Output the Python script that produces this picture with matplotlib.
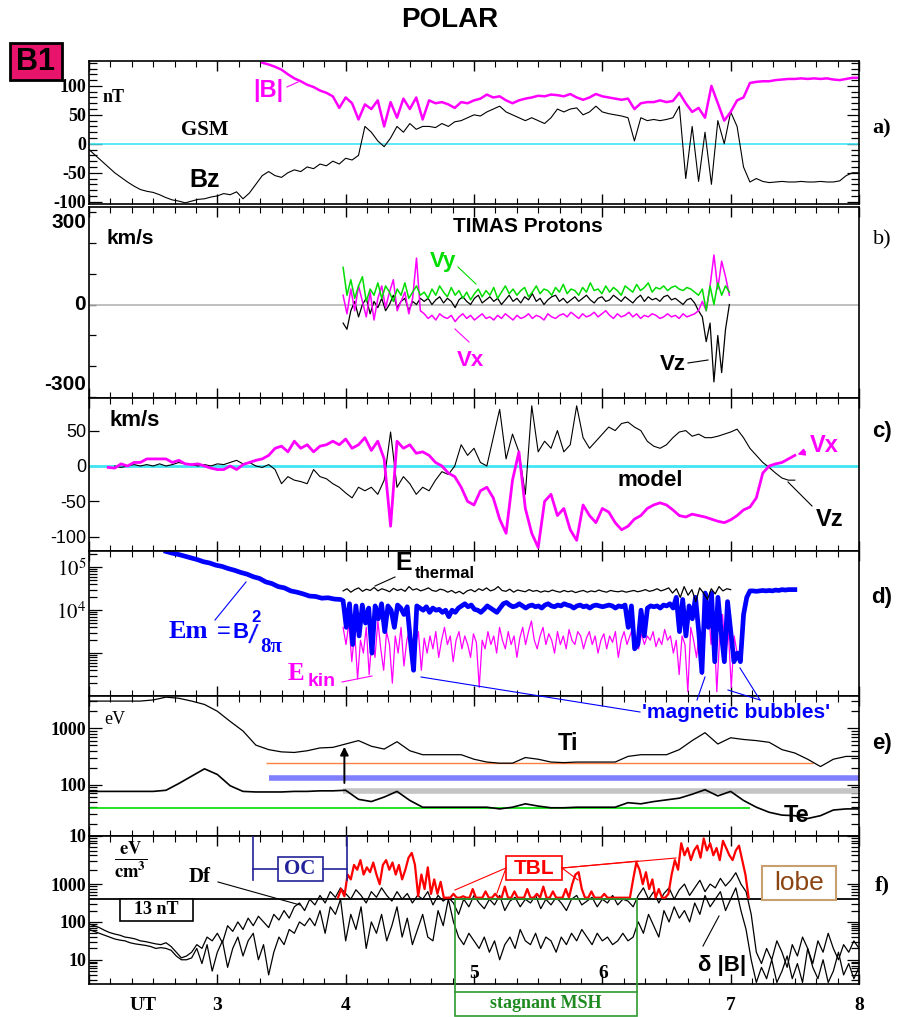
import numpy as np
import matplotlib
matplotlib.use("Agg")
import matplotlib.pyplot as plt
from matplotlib.lines import Line2D
from matplotlib.patches import Rectangle
from matplotlib.ticker import MultipleLocator, FixedLocator, LogLocator, NullFormatter

plt.rcParams['mathtext.fontset'] = 'stix'

SERIF = 'Liberation Serif'
SANS = 'Liberation Sans'
MAG = '#ff00ff'
CYAN = '#40e6f4'
GREEN = '#00dd00'
BLUE = '#0000ff'

# ---------------- data, UT hours ----------------
# a) GSM Bz and |B|, nT (3-min steps)
bz = [-10, -20, -30, -40, -50, -58, -66, -73, -79, -82,
      -84, -88, -93, -97, -99, -102, -99, -96, -95, -92,
      -90, -86, -88, -83, -95, -85, -70, -55, -48, -55,
      -58, -50, -45, -48, -40, -43, -35, -38, -30, -35,
      -25, -28, -20, 30, 20, 5, -5, 10, 30, 20,
      35, 25, 30, 30, 28, 35, 30, 38, 40, 45,
      50, 48, 55, 60, 65, 55, 50, 45, 40, 45,
      40, 35, 45, 60, 55, 60, 62, 50, 55, 65,
      55, 52, 50, 48, 45, 5, 45, 40, 42, 40,
      42, 45, 65, -60, 30, -65, 20, -70, 40, 0,
      55, 30, -40, -66, -60, -65, -67, -66, -65, -66,
      -66, -65, -66, -66, -65, -66, -66, -64, -55, -50, -50]
bmag = [140, 137, 133, 128, 120, 113, 108, 102, 98, 92,
        88, 82, 62, 80, 70, 42, 68, 60, 75, 30,
        72, 45, 78, 60, 80, 42, 75, 70, 72, 68,
        62, 72, 70, 75, 78, 85, 80, 82, 75, 70,
        75, 78, 80, 83, 82, 85, 84, 82, 86, 80,
        76, 80, 86, 82, 80, 78, 76, 78, 60, 70,
        72, 72, 75, 72, 74, 88, 70, 55, 62, 45,
        100, 70, 40, 55, 75, 80, 105, 107, 108, 108,
        110, 111, 112, 112, 113, 112, 113, 112, 113, 111,
        110, 112, 114, 114]

# b) TIMAS proton velocity, km/s
vx_b = [30, -30, 50, -20, 60, 10, -40, 40, -50, 20, 60, -10, 40, 80, -20, 10, 40, -30, 20, 150, -20,
        -30, -45, -35, -50, -30, -40, -45, -35, -55, -40, -30, -45, -35, -50, -40, -30, -45, -40, -50, -35,
        -45, -30, -40, -50, -35, -45, -40, -30, -45, -35, -40, -50, -30, -40, -45, -35, -30, -40, -25, -35,
        -45, -30, -40, -35, -25, -40, -30, -20, -35, -45, -30, -40, -35, -25, -40, -30, -45, -35, -40, -30,
        -35, -45, -40, -30, -40, -35, -45, -30, -40, -35, -30, -20,
        10, -20, 60, 160, 50, 140, 90, 30]
vy_b = [120, 30, 80, 20, 60, 90, 10, 50, 30, 70, 20, 60, 40, 10, 50, 30, 70, 20, 40, 60, 30,
        40, 20, 50, 30, 60, 40, 25, 55, 30, 45, 20, 40, 15, 35, 50, 25, 45, 30, 55, 20,
        40, 60, 35, 50, 30, 45, 55, 25, 40, 60, 35, 50, 45, 30, 55, 40, 65, 35, 50, 45,
        30, 55, 40, 70, 45, 50, 35, 60, 40, 55, 45, 30, 60, 50, 40, 65, 45, 55, 70, 40,
        55, 50, 60, 45, 55, 60, 50, 45, 55, 50, 40, 30,
        50, -20, 60, 0, 70, 30, 60, 40]
vz_b = [-60, -80, -20, 10, -40, 0, 20, -30, 10, -10, 20, -20, 0, 30, -10, 10, 20, -20, 10, 0, 20,
        10, 20, 0, 15, 25, 5, 20, 10, -10, 15, 25, 10, 0, 20, 30, 5, 15, 25, 10, 20,
        0, 15, 30, 10, 20, 5, 25, 15, 35, 10, 20, 0, 15, 25, 30, 10, 20, 5, 15, 25,
        10, 20, 30, 15, 5, 20, 25, 10, 15, 30, 20, 10, 25, 15, 5, 20, 30, 10, 25, 15,
        20, 10, 25, 30, 15, 20, 10, 0, 15, 20, 5, -20,
        -40, -120, -60, -250, -100, -220, -80, 0]

# c) model velocity, km/s
vx_c = [-2, -3, 3, 0, 5, 5, 10, 10, 10, 10,
        5, 8, 3, 2, 3, 0, -3, -5, -5, 0,
        -5, 2, 5, 8, 10, 15, 25, 28, 20, 35,
        25, 30, 20, 28, 30, 35, 30, 38, 25, 30,
        40, 22, 35, 10, -85, 35, 25, 30, 18, 20,
        15, 5, 0, -10, -15, -30, -50, -55, -35, -30,
        -45, -75, -95, -20, 20, -60, -95, -115, -50, -40,
        -70, -60, -90, -105, -55, -70, -80, -60, -65, -80,
        -90, -85, -75, -70, -60, -55, -52, -55, -62, -70,
        -72, -68, -70, -72, -75, -78, -80, -76, -70, -62,
        -58, -45, -10, 0, 3, 5, 10, 15]
vz_c = [0, -2, 0, 2, 0, 2, 0, 3, 0, 2,
        5, 3, 2, 0, 2, 0, 3, 2, 5, 8,
        3, 5, 0, -2, 2, -5, -25, -15, -20, -22,
        -25, -5, -15, -18, -25, -30, -38, -45, -30, -35,
        -30, -40, -20, 48, -30, -15, -25, -40, -30, -35,
        -20, -8, -12, 0, 30, 15, 25, 5, 0, 40,
        80, 10, 45, 20, -40, 85, 20, 35, 25, 50,
        20, 30, 85, 40, 25, 35, 45, 55, 50, 60,
        62, 55, 50, 35, 28, 25, 30, 40, 48, 50,
        42, 45, 40, 40, 42, 45, 48, 52, 40, 25,
        15, 5, -2, -10, -17, -20, -20]

# d) energy densities, log10 of eV/cm3
em_early = [5.37, 5.33, 5.30, 5.26, 5.22, 5.18, 5.13, 5.10, 5.05, 5.02, 4.97, 4.93, 4.88, 4.84, 4.78,
            4.74, 4.66, 4.62, 4.55, 4.52, 4.45, 4.42, 4.38, 4.33, 4.32, 4.28, 4.29, 4.26, 4.25]
em_late = [4.22, 3.6, 4.15, 3.2, 4.10, 3.4, 4.12, 3.7, 4.05, 3.0, 4.10, 3.8, 4.15, 3.5, 4.10, 4.0, 3.6,
           4.12, 4.05, 3.9, 4.08, 3.3, 2.6, 4.1, 4.05, 4.0, 4.08, 3.95, 4.05, 4.0, 4.02, 3.95, 4.0,
           3.85, 4.0, 3.95, 4.05, 4.1, 4.15, 4.08, 4.12, 4.02, 4.0, 3.95, 4.02, 4.1, 4.05, 4.0, 3.95,
           4.05, 4.15, 4.18, 4.12, 4.08, 4.1, 4.15, 4.1, 4.05, 4.1, 4.12, 4.08, 4.1, 4.05, 4.12, 4.15,
           4.1, 4.08, 4.12, 4.1, 4.15, 4.12, 4.1, 4.05, 4.1, 4.12, 4.08, 4.1, 4.05, 4.1, 4.12, 4.1,
           4.08, 4.1, 4.12, 4.1, 4.05, 4.1, 4.08, 4.12, 3.6, 4.1, 3.1, 3.2, 4.0, 3.4, 4.05, 4.1, 4.08,
           4.1, 4.05, 4.12, 4.1, 4.15, 4.05, 4.3, 3.5, 4.25, 3.4, 4.1, 3.8, 4.3, 3.5, 2.55, 4.4, 3.6,
           4.4, 2.8, 4.3, 3.5, 2.8, 4.2, 3.5, 2.8, 3.0, 2.8, 3.9, 4.3, 4.45, 4.45, 4.44, 4.45, 4.46,
           4.45, 4.46, 4.45, 4.47, 4.46, 4.48, 4.47, 4.48, 4.48, 4.48]
eth_log = [4.45, 4.50, 4.42, 4.48, 4.52, 4.44, 4.49, 4.46, 4.53, 4.45, 4.50, 4.47, 4.43, 4.51, 4.46,
           4.49, 4.44, 4.55, 4.47, 4.50, 4.45, 4.48, 4.52, 4.46, 4.44, 4.49, 4.47, 4.42, 4.46, 4.40,
           4.44, 4.38, 4.45, 4.48, 4.43, 4.50, 4.46, 4.52, 4.45, 4.48, 4.55, 4.46, 4.44, 4.49, 4.42,
           4.47, 4.45, 4.43, 4.48, 4.44, 4.46, 4.42, 4.45, 4.43, 4.47, 4.44, 4.42, 4.46, 4.43, 4.45,
           4.41, 4.44, 4.46, 4.42, 4.45, 4.43, 4.47, 4.44, 4.42, 4.46, 4.44, 4.43, 4.45, 4.42, 4.44,
           4.46, 4.43, 4.45, 4.48, 4.44, 4.46, 4.50, 4.45, 4.48, 4.52, 4.40, 4.50, 4.30, 4.55, 4.35,
           4.48, 4.20, 4.52, 4.40, 4.25, 4.50, 4.38, 4.55, 4.45, 4.50, 4.48]
ekin_log = [3.6, 3.2, 3.7, 2.8, 3.5, 2.4, 3.3, 3.0, 3.6, 2.5, 3.4, 2.9, 3.75, 3.1, 2.6, 3.5, 3.2, 2.3,
            3.4, 3.0, 3.6, 2.7, 3.3, 3.55, 2.9, 3.2, 3.5, 2.6, 3.35, 3.0, 3.4, 3.1, 3.5, 2.9, 3.3, 3.6,
            3.2, 3.4, 2.8, 3.3, 3.5, 3.1, 3.4, 3.2, 2.9, 3.45, 3.25, 2.2, 3.3, 3.1, 3.5, 3.2, 3.4, 3.0,
            3.6, 3.3, 3.1, 3.5, 3.2, 3.4, 2.9, 3.35, 3.6, 3.2, 3.5, 3.75, 3.3, 3.1, 3.4, 3.6, 3.2, 3.45,
            3.3, 3.0, 3.5, 3.2, 3.4, 3.1, 3.55, 3.3, 3.2, 3.5, 3.4, 3.1, 3.35, 3.5, 3.2, 3.4, 3.0, 3.3,
            3.45, 3.1, 3.4, 3.25, 3.5, 2.9, 3.3, 3.5, 3.2, 3.4, 3.6, 3.3, 3.1, 3.45, 3.2, 3.4, 3.3, 3.5,
            3.15, 3.35, 3.2, 3.55, 3.3, 3.4, 3.0, 3.3, 2.5, 3.4, 3.2, 2.1, 3.6, 3.3, 2.9, 3.5, 2.5, 3.6,
            4.2, 3.2, 3.7, 2.1, 3.4, 3.9, 2.9, 3.5, 2.2, 3.4, 3.0]

# e) ion and electron temperature, log10 eV (6-min steps)
ti_log = [3.48, 3.48, 3.48, 3.48, 3.48, 3.50, 3.55, 3.53, 3.48, 3.42,
          3.30, 3.12, 2.95, 2.70, 2.62, 2.58, 2.57, 2.60, 2.65, 2.66,
          2.72, 2.78, 2.68, 2.63, 2.76, 2.60, 2.53, 2.53, 2.53, 2.53,
          2.45, 2.40, 2.38, 2.38, 2.48, 2.45, 2.40, 2.39, 2.40, 2.40,
          2.40, 2.40, 2.50, 2.53, 2.53, 2.53, 2.62, 2.78, 2.92, 2.72,
          2.83, 2.80, 2.78, 2.75, 2.62, 2.56, 2.45, 2.32, 2.45, 2.50, 2.50]
te_log = [1.88, 1.88, 1.88, 1.88, 1.88, 1.88, 1.90, 2.02, 2.15, 2.28,
          2.18, 1.98, 1.88, 1.87, 1.87, 1.87, 1.88, 1.88, 1.89, 1.89,
          1.90, 1.74, 1.70, 1.78, 1.88, 1.72, 1.60, 1.60, 1.60, 1.60,
          1.60, 1.60, 1.57, 1.60, 1.66, 1.62, 1.59, 1.59, 1.60, 1.60,
          1.60, 1.60, 1.68, 1.66, 1.70, 1.73, 1.76, 1.83, 1.91, 1.80,
          1.88, 1.72, 1.60, 1.51, 1.46, 1.45, 1.40, 1.45, 1.55, 1.57, 1.57]
level_ev = [245, 130, 76, 39]
level_from = [3.38, 3.40, 3.98, 2.0]
level_to = [7.64, 8.0, 8.0, 7.15]

# f) TBL energy density (log10 eV/cm3) and fluctuation curves (log10)
tbl_log = [2.72, 2.9, 2.75, 3.2, 3.1, 3.4, 3.3, 3.5, 3.2, 3.35, 3.25, 3.45, 3.2, 3.0, 3.4, 3.5, 3.3,
           3.45, 3.2, 3.4, 3.1, 3.3, 3.55, 3.65, 3.4, 2.75, 3.2, 2.9, 3.35, 2.8, 3.1, 2.8, 3.05, 2.72,
           2.72, 2.72, 2.8, 2.72, 2.72, 2.75, 2.72, 2.72, 2.9, 2.72, 2.72, 2.72, 2.85, 2.72, 2.72, 2.8,
           2.72, 2.72, 2.95, 2.72, 2.72, 2.85, 2.72, 2.72, 2.72, 2.9, 2.72, 2.72, 2.8, 2.72, 2.95, 2.72,
           2.72, 2.85, 2.72, 2.72, 2.72, 2.9, 2.72, 3.0, 3.2, 3.25, 2.9, 2.72, 2.72, 2.85, 2.72, 2.72,
           2.72, 2.8, 2.72, 2.72, 2.72, 2.72, 2.72, 2.72, 2.72, 2.72, 3.1, 3.45, 3.3, 3.0, 3.25, 2.9,
           3.1, 2.72, 2.9, 2.72, 2.72, 2.8, 3.2, 3.5, 3.3, 3.85, 3.6, 3.75, 3.5, 3.7, 3.8, 3.55, 3.95,
           3.7, 3.85, 3.6, 3.75, 3.5, 3.9, 3.75, 3.6, 3.5, 3.7, 3.8, 3.5, 3.2, 2.72]
df_hi = [1.95, 1.9, 1.85, 1.78, 1.72, 1.68, 1.65, 1.6, 1.58, 1.55, 1.5, 1.48, 1.45, 1.42, 1.4, 1.45,
         1.35, 1.2, 1.05, 1.1, 1.2,
         1.4, 1.3, 1.6, 1.5, 1.7, 1.45, 1.9, 1.75, 2.0, 1.8, 2.1, 1.9, 2.15, 2.0, 1.85, 2.2, 2.05,
         2.3, 2.1, 2.4, 2.5, 2.3,
         2.6, 2.45, 2.7, 2.5, 2.8, 2.65, 2.9, 2.75, 2.6, 2.85, 2.7, 2.5, 2.8, 2.65, 2.9, 2.7, 2.55,
         2.8, 2.6, 2.75, 2.5, 2.7, 2.6, 2.8, 2.45, 2.7, 2.55, 2.65,
         2.5, 2.2, 2.6, 2.4, 2.7, 2.5, 2.35, 2.6, 2.45, 2.7, 2.3, 2.55, 2.65, 2.4, 2.6, 2.5, 2.7,
         2.35, 2.6, 2.45, 2.65, 2.5, 2.3, 2.6, 2.7, 2.45, 2.55, 2.65, 2.4, 2.6, 2.5, 2.7, 2.45, 2.6,
         2.55, 2.4,
         2.7, 2.9, 2.6, 2.8, 2.5, 2.75, 2.9, 2.6, 2.85, 3.0, 2.7, 2.9, 3.1, 2.8, 3.0, 2.9, 3.15,
         2.95, 3.1, 3.3, 3.0,
         2.8, 2.2, 1.2, 0.9, 1.3, 1.0, 1.5, 1.2, 0.8, 1.4, 1.1, 1.6, 1.3, 0.9, 1.5, 1.2, 1.7, 1.3,
         1.0, 1.4, 1.2, 1.5, 1.3]
df_lo = [1.8, 1.75, 1.7, 1.65, 1.6, 1.55, 1.52, 1.5, 1.45, 1.42, 1.4, 1.38, 1.35, 1.3, 1.32, 1.3,
         1.25, 1.1, 1.0, 1.0, 1.05,
         1.3, 0.9, 1.4, 0.7, 1.2, 1.5, 0.8, 1.3, 1.6, 1.1, 1.5, 1.7, 1.0, 1.4, 0.6, 1.2, 1.6, 1.4,
         1.8, 1.7, 2.0, 1.9,
         2.1, 1.9, 2.3, 1.7, 2.4, 2.2, 2.6, 1.5, 2.2, 1.8, 2.4, 1.3, 2.0, 1.7, 2.2, 1.5, 1.9, 2.4,
         1.6, 2.1, 1.4, 1.8, 2.2, 1.6, 1.5, 2.3, 1.9, 2.6,
         2.0, 1.6, 1.4, 1.7, 1.5, 1.3, 1.6, 1.2, 1.5, 1.0, 1.4, 1.6, 1.3, 1.8, 1.5, 1.4, 1.7, 1.3,
         1.6, 1.5, 1.2, 1.6, 1.4, 1.7, 1.5, 1.8, 1.6, 1.4, 1.7, 1.5, 1.6, 1.4, 1.5, 1.7, 1.5, 1.6,
         2.0, 1.7, 2.2, 1.9, 1.6, 2.3, 2.0, 2.4, 2.1, 2.3, 2.0, 2.5, 2.2, 2.7, 2.4, 2.6, 2.8, 2.3,
         2.6, 2.9, 2.3,
         1.8, 1.0, 0.4, 0.8, 0.5, 1.0, 0.4, 0.7, 1.1, 0.5, 0.9, 0.4, 1.3, 0.8, 0.5, 1.0, 0.4, 0.7,
         1.2, 0.6, 0.9, 0.5, 0.8]

t_bz = np.linspace(2.0, 8.0, len(bz))
t_bmag = np.linspace(3.35, 8.0, len(bmag))
t_vb = np.linspace(3.98, 6.99, len(vx_b))
t_vxc = np.linspace(2.15, 7.5, len(vx_c))
t_vzc = np.linspace(2.2, 7.5, len(vz_c))
t_em = np.concatenate([np.linspace(2.6, 3.96, len(em_early)), np.linspace(3.98, 7.5, len(em_late))])
em_log = np.array(em_early + em_late)
t_eth = np.linspace(3.98, 7.0, len(eth_log))
t_ekin = np.linspace(3.98, 7.05, len(ekin_log))
t_e = np.linspace(2.0, 8.0, len(ti_log))
t_tbl = np.linspace(3.94, 7.14, len(tbl_log))
t_df = np.linspace(2.0, 8.0, len(df_hi))

# ---------------- figure ----------------
W, H = 898, 1017
X0, X1 = 89, 859
fig = plt.figure(figsize=(W / 100, H / 100), dpi=100)


def panel(top, bottom):
    ax = fig.add_axes([X0 / W, 1 - bottom / H, (X1 - X0) / W, (bottom - top) / H])
    ax.set_xlim(2, 8)
    ax.xaxis.set_major_locator(MultipleLocator(1))
    ax.xaxis.set_minor_locator(MultipleLocator(1 / 6))
    ax.tick_params(axis='x', which='both', direction='in', top=True, labelbottom=False)
    ax.tick_params(axis='x', which='major', length=7, width=1)
    ax.tick_params(axis='x', which='minor', length=4, width=0.8)
    ax.tick_params(axis='y', which='both', direction='in', width=0.9)
    for sp in ax.spines.values():
        sp.set_linewidth(1.2)
    return ax


def ftext(x, y, s, **kw):
    kw.setdefault('ha', 'center')
    kw.setdefault('va', 'center')
    return fig.text(x / W, 1 - y / H, s, **kw)


def fline(xs, ys, **kw):
    kw.setdefault('lw', 0.8)
    kw.setdefault('color', 'k')
    fig.add_artist(Line2D(np.array(xs) / W, 1 - np.array(ys) / H, **kw))


def fbox(x0, y0, x1, y1, **kw):
    fig.add_artist(Rectangle((x0 / W, 1 - y1 / H), (x1 - x0) / W, (y1 - y0) / H,
                             transform=fig.transFigure, **kw))


serif_b = dict(family=SERIF, weight='bold')
sans_b = dict(family=SANS, weight='bold')

# title and tag
ftext(450, 20, 'POLAR', size=20, **sans_b)
fbox(10, 43, 62, 80, facecolor='#e8136a', edgecolor='k', lw=2)
ftext(36, 62, 'B1', size=22, **sans_b)

# a) field
ax = panel(61, 204)
ax.set_ylim(-104, 143)
ax.axhline(0, color=CYAN, lw=1.2)
ax.plot(t_bz, bz, color='k', lw=0.8)
ax.plot(t_bmag, bmag, color=MAG, lw=1.8)
ax.set_yticks([-100, -50, 0, 50, 100], ['-100', '-50', '0', '50', '100'],
              fontfamily=SERIF, fontweight='bold', fontsize=13)
ax.yaxis.set_minor_locator(MultipleLocator(10))
ax.tick_params(axis='y', which='both', right=True, pad=2)
ax.tick_params(axis='y', which='major', length=9)
ax.tick_params(axis='y', which='minor', length=6)
ftext(114, 97, 'nT', size=13, **serif_b)
ftext(268, 90, '|B|', size=17, color=MAG, **sans_b)
fline([287, 298], [87, 82], color=MAG)
ftext(205, 130, 'GSM', size=15, **serif_b)
ftext(205, 180, 'Bz', size=18, **sans_b)
ftext(882, 128, 'a)', size=16, **serif_b)

# b) TIMAS protons
ax = panel(207, 398)
ax.set_ylim(-302, 315)
ax.axhline(0, color='#b4b4b4', lw=1.2)
ax.plot(t_vb, vz_b, color='k', lw=0.9)
ax.plot(t_vb, vx_b, color=MAG, lw=1.1)
ax.plot(t_vb, vy_b, color=GREEN, lw=1.1)
ax.set_yticks(np.arange(-300, 301, 100), [])
ax.tick_params(axis='y', which='major', length=5)
ftext(86, 222, '300', ha='right', size=15, **sans_b)
ftext(86, 305, '0', ha='right', size=15, **sans_b)
ftext(86, 385, '-300', ha='right', size=15, **sans_b)
ftext(130, 238, 'km/s', size=15, **sans_b)
ftext(528, 226, 'TIMAS Protons', size=15, **sans_b)
ftext(443, 262, 'Vy', size=16, color=GREEN, **sans_b)
fline([458, 476], [267, 284], color=GREEN)
ftext(470, 360, 'Vx', size=16, color=MAG, **sans_b)
fline([455, 469], [329, 342], color=MAG)
ftext(673, 365, 'Vz', size=16, **sans_b)
fline([688, 708], [363, 360])
ftext(882, 240, 'b)', size=16, family=SERIF)

# c) model velocity
ax = panel(398, 551)
ax.set_ylim(-120, 96)
ax.axhline(0, color=CYAN, lw=2)
ax.plot(t_vzc, vz_c, color='k', lw=0.8)
ax.plot(t_vxc, vx_c, color=MAG, lw=2)
ax.set_yticks([-100, -50, 0, 50], ['-100', '-50', '0', '50'], fontfamily=SANS, fontsize=13)
ax.tick_params(axis='y', which='major', length=7, pad=2)
ftext(135, 421, 'km/s', size=16, **sans_b)
ftext(650, 481, 'model', size=16, **sans_b)
ftext(824, 446, 'Vx', size=17, color=MAG, **sans_b)
ax.annotate('', xy=(7.5, 15), xytext=(808 / W, 1 - 451 / H), textcoords='figure fraction',
            arrowprops=dict(arrowstyle='-|>', color=MAG, lw=1.2, mutation_scale=10))
ftext(830, 520, 'Vz', size=17, **sans_b)
fline([812, 788], [506, 482])
ftext(882, 432, 'c)', size=16, **sans_b)

# d) energy densities
ax = panel(551, 696)
ax.set_yscale('log')
ax.set_ylim(10 ** 2.0, 10 ** 5.38)
ax.plot(t_ekin, 10 ** np.array(ekin_log), color=MAG, lw=0.9)
ax.plot(t_em, 10 ** em_log, color=BLUE, lw=3.4)
ax.plot(t_eth, 10 ** np.array(eth_log), color='k', lw=0.9)
ax.set_yticks([1e3, 1e4, 1e5], ['', '$10^4$', '$10^5$'], fontsize=15)
ax.yaxis.set_minor_locator(LogLocator(10, subs=np.arange(2, 10)))
ax.yaxis.set_minor_formatter(NullFormatter())
ax.tick_params(axis='y', which='major', length=9, pad=2)
ax.tick_params(axis='y', which='minor', length=6)
ftext(404, 563, 'E', size=18, **sans_b)
ftext(445, 574, 'thermal', size=12, **sans_b)
fline([395, 375], [577, 586])
ftext(188, 632, 'Em', size=19, color=BLUE, **serif_b)
ftext(224, 632, '=', size=17, color=BLUE, family=SANS)
ftext(241, 632, 'B', size=16, color=BLUE, **sans_b)
ftext(256, 618, '2', size=12, color=BLUE, **sans_b)
ftext(253, 637, '/', size=20, color=BLUE, family=SANS, rotation=-8)
ftext(271, 647, '8π', size=15, color=BLUE, **serif_b)
fline([215, 246], [620, 582], color=BLUE)
ftext(296, 673, 'E', size=18, color=MAG, **serif_b)
ftext(322, 681, 'kin', size=14, color=MAG, **sans_b)
fline([342, 372], [682, 676], color=MAG)
ftext(882, 597, 'd)', size=16, **sans_b)

# e) temperatures
ax = panel(696, 836)
ax.set_yscale('log')
ax.set_ylim(10 ** 1.09, 10 ** 3.57)
level_style = [('#ff8040', 1.0), ('#8080ff', 4.0), ('#c4c4c4', 4.0), ('#00dd00', 1.2)]
for lev, xa, xb, (col, lw) in zip(level_ev, level_from, level_to, level_style):
    ax.hlines(lev, xa, xb, color=col, lw=lw)
ax.plot(t_e, 10 ** np.array(ti_log), color='k', lw=0.9)
ax.plot(t_e, 10 ** np.array(te_log), color='k', lw=1.2)
ax.annotate('', xy=(3.99, 10 ** 2.72), xytext=(3.99, 10 ** 1.98),
            arrowprops=dict(arrowstyle='-|>', color='k', lw=1.4, mutation_scale=12))
ax.set_yticks([100, 1000], ['100', '1000'], fontfamily=SERIF, fontweight='bold', fontsize=13)
ax.yaxis.set_minor_locator(LogLocator(10, subs=np.arange(2, 10)))
ax.yaxis.set_minor_formatter(NullFormatter())
ax.tick_params(axis='y', which='both', right=True, pad=2)
ax.tick_params(axis='y', which='major', length=9)
ax.tick_params(axis='y', which='minor', length=6)
ftext(115, 720, 'eV', size=13, family=SERIF)
ftext(568, 743, 'Ti', size=17, **sans_b)
ftext(797, 815, 'Te', size=17, **sans_b)
ftext(642, 713, "'magnetic bubbles'", ha='left', size=15, color=BLUE, **sans_b)
fline([640, 421], [712, 677], color=BLUE)
fline([697, 705], [700, 677], color=BLUE)
fline([760, 728], [700, 690], color=BLUE)
fline([760, 740], [700, 668], color=BLUE)
ftext(882, 743, 'e)', size=16, **sans_b)

# f) TBL energy density and fluctuations
axf = panel(836, 984)
axf.set_yscale('log')
axf.set_ylim(10 ** 0.36, 10 ** 4.27)
axf.plot(t_df, 10 ** np.array(df_hi), color='k', lw=0.9)
axf.plot(t_df, 10 ** np.array(df_lo), color='k', lw=0.9)
axf.set_yticks([10, 100], ['10', '100'], fontfamily=SERIF, fontweight='bold', fontsize=13)
axf.yaxis.set_minor_locator(FixedLocator([k * 10.0 ** e for e in (0, 1) for k in range(2, 10)]
                                         + [200, 300]))
axf.yaxis.set_minor_formatter(NullFormatter())
axf.tick_params(axis='y', which='both', right=True, pad=2)
axf.tick_params(axis='y', which='major', length=9)
axf.tick_params(axis='y', which='minor', length=6)
axf.set_xticks(range(2, 9), ['', '3', '4', '', '', '7', '8'],
               fontfamily=SERIF, fontweight='bold', fontsize=14)
axf.tick_params(axis='x', labelbottom=True, pad=9)

axu = fig.add_axes(axf.get_position())
axu.patch.set_visible(False)
for sp in axu.spines.values():
    sp.set_visible(False)
axu.set_xlim(2, 8)
axu.set_yscale('log')
axu.set_ylim(10 ** 0.93, 10 ** 4)
axu.axhline(10 ** 2.70, color='k', lw=1.3)
axu.plot(t_tbl, 10 ** np.array(tbl_log), color='#ff0000', lw=1.6)
axu.tick_params(axis='x', which='both', bottom=False, top=False, labelbottom=False)
axu.set_yticks([1000, 10000], ['1000', '10'], fontfamily=SERIF, fontweight='bold', fontsize=13)
axu.yaxis.set_minor_locator(FixedLocator([600, 700, 800, 900] + [k * 1000 for k in range(2, 10)]))
axu.yaxis.set_minor_formatter(NullFormatter())
axu.tick_params(axis='y', which='both', direction='in', right=True, pad=2, width=0.9)
axu.tick_params(axis='y', which='major', length=9)
axu.tick_params(axis='y', which='minor', length=6)

ftext(131, 860, r'$\mathbf{\frac{eV}{cm^3}}$', size=19)
ftext(200, 877, 'Df', size=15, **serif_b)
fline([218, 300], [882, 905])
navy = '#22229a'
fline([253, 253], [837, 880], color=navy, lw=1.2)
fline([347, 347], [837, 880], color=navy, lw=1.2)
fline([253, 278], [869, 869], color=navy, lw=1.2)
fline([323, 347], [869, 869], color=navy, lw=1.2)
fbox(278, 857, 323, 881, facecolor='white', edgecolor=navy, lw=1.2)
ftext(300, 869, 'OC', size=15, color=navy, **serif_b)
fbox(120, 899, 193, 921, facecolor='white', edgecolor='k', lw=1.2)
ftext(156, 910, '13 nT', size=13, **serif_b)
for xe, ye in [(455, 890), (497, 893), (578, 880), (638, 861), (676, 858)]:
    xs = 506 if xe < 534 else 562
    fline([xs, xe], [868, ye], color='#ff0000')
fbox(506, 856, 562, 880, facecolor='white', edgecolor='#ff0000', lw=1.2)
ftext(534, 868, 'TBL', size=15, color='#ff0000', **sans_b)
fbox(762, 866, 836, 900, facecolor='white', edgecolor='#c8a070', lw=1.5)
ftext(799, 883, 'lobe', size=19, color='#8b4513', family=SANS)
ftext(722, 965, 'δ |B|', size=16, **sans_b)
fline([703, 719], [946, 916])
ftext(474, 973, '5', size=14, **serif_b)
ftext(603, 973, '6', size=14, **serif_b)
msh = '#2e9a2e'
fbox(455, 899, 637, 1016, fill=False, edgecolor=msh, lw=1.2)
fline([455, 637], [992, 992], color=msh, lw=1.2)
ftext(546, 1004, 'stagnant MSH', size=13, color='#1f8a1f', **serif_b)
ftext(143, 1005, 'UT', size=14, **serif_b)
ftext(882, 885, 'f)', size=16, **serif_b)

fig.savefig('out.png', dpi=100)
